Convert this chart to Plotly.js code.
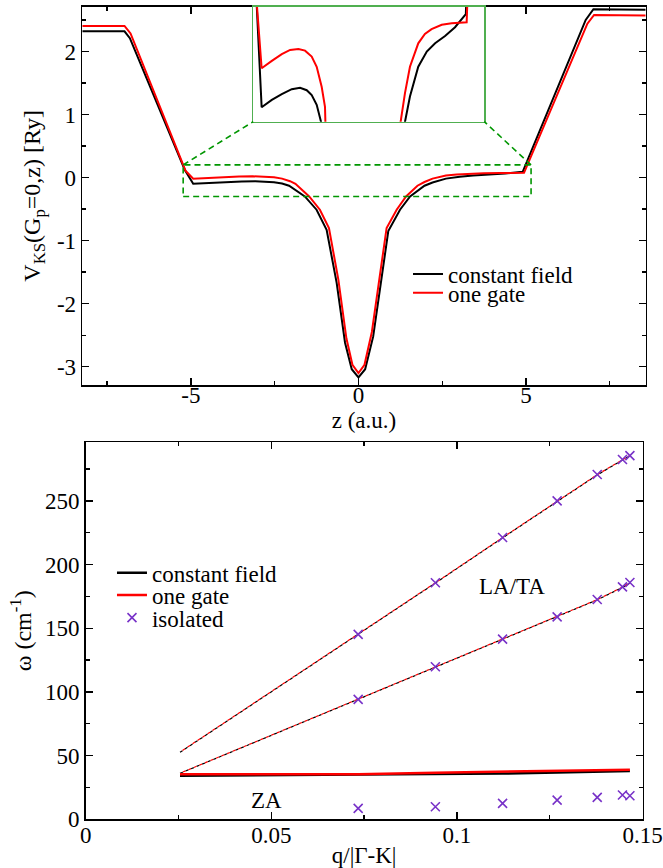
<!DOCTYPE html>
<html>
<head>
<meta charset="utf-8">
<script src="https://cdn.plot.ly/plotly-3.0.1.min.js"></script>
<style>html,body{margin:0;padding:0;background:#fff}#chart{width:663px;height:868px}</style>
</head>
<body>
<div id="chart"></div>
<script>
// ---------- top panel: Kohn-Sham potential ----------
const zBlack = [-8.24, -6.98, -6.82, -5.18, -4.93, -4.44, -3.96, -3.48, -3.08, -2.76, -2.52, -2.28, -2.07, -1.60, -1.25, -0.95, -0.65, -0.40, -0.20, 0.00, 0.20, 0.44, 0.64, 0.89, 1.24, 1.54, 1.97, 2.21, 2.61, 3.02, 3.42, 3.90, 4.38, 4.90, 6.78, 7.01, 8.57];
const vBlack = [2.32, 2.32, 2.21, 0.12, -0.100, -0.085, -0.073, -0.063, -0.060, -0.065, -0.075, -0.095, -0.130, -0.30, -0.51, -0.83, -1.67, -2.62, -3.04, -3.17, -3.04, -2.52, -1.78, -0.85, -0.51, -0.30, -0.130, -0.078, -0.017, 0.014, 0.031, 0.046, 0.064, 0.091, 2.50, 2.67, 2.66];
const zRed = [-8.24, -6.98, -6.80, -5.16, -4.93, -4.44, -3.96, -3.56, -3.16, -2.84, -2.52, -2.28, -2.04, -1.88, -1.47, -1.15, -0.88, -0.60, -0.36, -0.18, 0.00, 0.18, 0.40, 0.60, 0.84, 1.14, 1.42, 1.76, 1.97, 2.21, 2.61, 2.93, 3.25, 3.74, 4.22, 4.94, 6.83, 7.03, 8.57];
const vRed = [2.405, 2.405, 2.285, 0.11, -0.020, -0.005, 0.009, 0.0175, 0.0195, 0.016, 0.004, -0.017, -0.058, -0.099, -0.30, -0.51, -0.80, -1.62, -2.55, -2.97, -3.10, -2.97, -2.45, -1.70, -0.80, -0.51, -0.30, -0.130, -0.071, -0.017, 0.031, 0.050, 0.060, 0.069, 0.072, 0.074, 2.44, 2.58, 2.57];
const topXTicks = [-5, 0, 5];
const topXTickText = ['-5', '0', '5'];
const topYTicks = [-3, -2, -1, 0, 1, 2];
const topYTickText = ['-3', '-2', '-1', '0', '1', '2'];
const zoomBoxZ = [-5.23, 5.15];
const zoomBoxV = [-0.30, 0.20];
const insetRangeZ = [-5.33, 5.79];
const insetRangeV = [-0.1295, 0.106];

// ---------- bottom panel: phonon dispersion ----------
const qLine = [0.0254, 0.0734, 0.0942, 0.1123, 0.1270, 0.1378, 0.1446, 0.1466];
const laConst = [52.6, 145.0, 185.5, 221.0, 249.6, 270.4, 282.1, 285.4];
const laGate  = [52.8, 145.2, 185.7, 221.2, 249.8, 270.6, 282.3, 285.6];
const taConst = [36.1, 94.0, 119.6, 141.3, 158.8, 172.3, 182.1, 185.5];
const taGate  = [36.2, 94.2, 119.8, 141.5, 159.0, 172.5, 182.3, 185.7];
const zaConst = [34.2, 35.0, 35.5, 35.9, 36.8, 37.4, 37.9, 38.0];
const zaGate  = [35.3, 35.3, 36.6, 37.3, 38.0, 38.5, 38.8, 38.9];
const qIso = [0.0734, 0.0942, 0.1123, 0.1270, 0.1378, 0.1446, 0.1466];
const laIso = [145.2, 185.7, 221.3, 250.0, 270.7, 282.5, 285.6];
const taIso = [94.2, 119.8, 141.5, 159.0, 172.6, 182.5, 185.9];
const zaIso = [8.6, 9.9, 12.5, 15.1, 17.2, 19.1, 18.5];
const botXTicks = [0, 0.05, 0.1, 0.15];
const botXTickText = ['0', '0.05', '0.1', '0.15'];
const botYTicks = [0, 50, 100, 150, 200, 250];

const FONT = '"Liberation Serif", "Times New Roman", serif';
const BLACK = '#000000', RED = '#ff0000', PURPLE = 'rgb(120,50,200)';
const GREEN_DASH = 'rgb(0,150,0)', GREEN_BOX = 'rgb(80,175,80)';

const traces = [
  // top main
  {x: zBlack, y: vBlack, xaxis: 'x', yaxis: 'y', mode: 'lines', line: {color: BLACK, width: 2}, name: 'constant field', legend: 'legend'},
  {x: zRed, y: vRed, xaxis: 'x', yaxis: 'y', mode: 'lines', line: {color: RED, width: 2}, name: 'one gate', legend: 'legend2'},
  // inset (zoom of the same data)
  {x: zBlack, y: vBlack, xaxis: 'x3', yaxis: 'y3', mode: 'lines', line: {color: BLACK, width: 2}, showlegend: false},
  {x: zRed, y: vRed, xaxis: 'x3', yaxis: 'y3', mode: 'lines', line: {color: RED, width: 2}, showlegend: false},
  // bottom
  {x: qLine, y: laConst, xaxis: 'x2', yaxis: 'y2', mode: 'lines', line: {color: BLACK, width: 1.2, dash: '3px,3px'}, showlegend: false},
  {x: qLine, y: laGate, xaxis: 'x2', yaxis: 'y2', mode: 'lines', line: {color: RED, width: 1.2, dash: '0px,3px,3px,0px'}, showlegend: false},
  {x: qLine, y: taConst, xaxis: 'x2', yaxis: 'y2', mode: 'lines', line: {color: BLACK, width: 1.2, dash: '3px,3px'}, showlegend: false},
  {x: qLine, y: taGate, xaxis: 'x2', yaxis: 'y2', mode: 'lines', line: {color: RED, width: 1.2, dash: '0px,3px,3px,0px'}, showlegend: false},
  {x: qLine, y: zaConst, xaxis: 'x2', yaxis: 'y2', mode: 'lines', line: {color: BLACK, width: 2.5}, name: 'constant field', legend: 'legend3'},
  {x: qLine, y: zaGate, xaxis: 'x2', yaxis: 'y2', mode: 'lines', line: {color: RED, width: 2.5}, name: 'one gate', legend: 'legend4'},
  {x: qIso.concat(qIso, qIso), y: laIso.concat(taIso, zaIso), xaxis: 'x2', yaxis: 'y2', mode: 'markers',
   marker: {symbol: 'x-thin-open', size: 9, color: PURPLE, line: {color: PURPLE, width: 1.6}}, name: 'isolated', legend: 'legend5'}
];

const axisCommon = {
  showline: true, linecolor: BLACK, linewidth: 1.6, mirror: 'allticks',
  ticks: 'inside', ticklen: 7, tickwidth: 1.3, tickcolor: BLACK,
  showgrid: false, zeroline: false,
  tickfont: {family: FONT, size: 23, color: BLACK}
};

function legendAt(x, y) {
  return {x: x, y: y, xanchor: 'left', yanchor: 'middle', bgcolor: 'rgba(0,0,0,0)',
          font: {family: FONT, size: 23, color: BLACK}, borderwidth: 0, itemwidth: 30};
}

const layout = {
  width: 663, height: 868,
  margin: {l: 0, r: 0, t: 0, b: 0},
  paper_bgcolor: '#fff', plot_bgcolor: '#fff',
  font: {family: FONT, size: 23, color: BLACK},
  xaxis: Object.assign({}, axisCommon, {
    domain: [0.1241, 0.9739], range: [-8.24, 8.57], anchor: 'y',
    tickmode: 'array', tickvals: topXTicks, ticktext: topXTickText, ticklabelstandoff: -11,
    minor: {dtick: 2.5, tick0: 0, ticklen: 4, ticks: 'inside', tickcolor: BLACK, tickwidth: 1.3},
    title: {text: 'z (a.u.)', font: {family: FONT, size: 23}, standoff: 0}
  }),
  yaxis: Object.assign({}, axisCommon, {
    domain: [0.5565, 0.9923], range: [-3.29, 2.71], anchor: 'x',
    tickmode: 'array', tickvals: topYTicks, ticktext: topYTickText,
    minor: {dtick: 0.5, tick0: 0, ticklen: 4, ticks: 'inside', tickcolor: BLACK, tickwidth: 1.3},
    title: {text: 'V<sub>KS</sub>(G<sub>p</sub>=0,z) [Ry]', font: {family: FONT, size: 24}, standoff: 9}
  }),
  xaxis2: Object.assign({}, axisCommon, {
    domain: [0.1293, 0.9691], range: [0, 0.15], anchor: 'y2',
    tickmode: 'array', tickvals: botXTicks, ticktext: botXTickText, ticklabelstandoff: -6,
    minor: {dtick: 0.025, tick0: 0, ticklen: 4, ticks: 'inside', tickcolor: BLACK, tickwidth: 1.3},
    title: {text: 'q/|Γ-K|', font: {family: FONT, size: 23}, standoff: 7}
  }),
  yaxis2: Object.assign({}, axisCommon, {
    domain: [0.0561, 0.4904], range: [0, 296], anchor: 'x2',
    tickmode: 'array', tickvals: botYTicks,
    minor: {dtick: 25, tick0: 0, ticklen: 4, ticks: 'inside', tickcolor: BLACK, tickwidth: 1.3},
    title: {text: 'ω (cm<sup>-1</sup>)', font: {family: FONT, size: 24}, standoff: 6}
  }),
  xaxis3: {domain: [0.3821, 0.7305], range: insetRangeZ, anchor: 'y3', showline: true, mirror: true,
           linecolor: GREEN_BOX, linewidth: 1.3, ticks: '', showticklabels: false, showgrid: false, zeroline: false},
  yaxis3: {domain: [0.8598, 0.9923], range: insetRangeV, anchor: 'x3', showline: true, mirror: true,
           linecolor: GREEN_BOX, linewidth: 1.3, ticks: '', showticklabels: false, showgrid: false, zeroline: false},
  legend: legendAt(0.6154, 0.6843),
  legend2: legendAt(0.6154, 0.6628),
  legend3: legendAt(0.1689, 0.3402),
  legend4: legendAt(0.1689, 0.3145),
  legend5: legendAt(0.1689, 0.2884),
  shapes: [
    {type: 'rect', xref: 'x', yref: 'y', x0: zoomBoxZ[0], x1: zoomBoxZ[1], y0: zoomBoxV[0], y1: zoomBoxV[1],
     line: {color: GREEN_DASH, width: 1.6, dash: '6px,4px'}},
    {type: 'line', xref: 'x', yref: 'y', x0: zoomBoxZ[0], y0: zoomBoxV[1], x1: -3.14, y1: 0.886,
     line: {color: GREEN_DASH, width: 1.6, dash: '6px,4px'}},
    {type: 'line', xref: 'x', yref: 'y', x0: zoomBoxZ[1], y0: zoomBoxV[1], x1: 3.755, y1: 0.886,
     line: {color: GREEN_DASH, width: 1.6, dash: '6px,4px'}}
  ],
  annotations: [
    {xref: 'x2', yref: 'y2', x: 0.1148, y: 182.5, text: 'LA/TA', showarrow: false, font: {family: FONT, size: 23, color: BLACK}},
    {xref: 'x2', yref: 'y2', x: 0.0488, y: 15.1, text: 'ZA', showarrow: false, font: {family: FONT, size: 23, color: BLACK}}
  ]
};

Plotly.newPlot('chart', traces, layout, {staticPlot: true, displayModeBar: false});
</script>
</body>
</html>
